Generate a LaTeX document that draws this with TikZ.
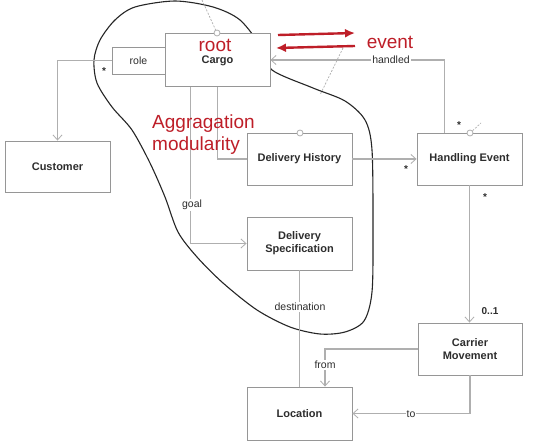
\documentclass[tikz,border=0pt]{standalone}
\usepackage{fontspec}
\setmainfont{Liberation Sans}
\usetikzlibrary{arrows.meta}
\definecolor{boxline}{RGB}{150,150,150}
\definecolor{connc}{RGB}{175,175,175}
\definecolor{txt}{RGB}{45,45,45}
\definecolor{annot}{RGB}{190,30,40}
\begin{document}
\begin{tikzpicture}[x=1pt,y=-1pt,
 cls/.style={draw=boxline, line width=0.9pt, fill=white, minimum width=105pt, minimum height=53pt, inner sep=1pt, align=center, font=\fontsize{11}{13}\selectfont\bfseries, text=txt},
 rolebox/.style={draw=boxline, line width=0.9pt, fill=white, minimum width=53pt, minimum height=27pt, inner sep=1pt, font=\fontsize{10.5}{12}\selectfont, text=txt},
 connline/.style={draw=connc, line width=1.2pt},
 nav/.style={-{Straight Barb[length=5pt,width=9pt,line width=0.8pt]}},
 lbl/.style={font=\fontsize{10.5}{12}\selectfont, text=txt, fill=white, inner sep=1pt},
 mult/.style={font=\fontsize{10}{11}\selectfont\bfseries, text=txt, inner sep=0pt},
 redtxt/.style={font=\fontsize{19}{21}\selectfont, text=annot, inner sep=0pt},
 redarrow/.style={draw=annot, line width=2.4pt, -{Latex[length=10pt,width=9pt]}},
 port/.style={circle, draw=connc, fill=white, line width=0.8pt, minimum size=6pt, inner sep=0pt},
 guide/.style={draw=connc, line width=0.7pt, dash pattern=on 2pt off 1.5pt},
]
\useasboundingbox (0,0) rectangle (533,446);
\fill[white] (0,0) rectangle (533,446);

% aggregate boundary
\draw[black!85, line width=1.1pt] plot[smooth cycle, tension=0.5] coordinates {
 (175,1) (213,7) (240,20) (262,48) (272,70) (313,88) (345,101) (365,120)
 (372,150) (373,230) (372,292) (364,321) (345,332) (320,334) (290,327)
 (257,310) (223,283) (197,257) (178,232) (165,197) (150,163) (132,130)
 (112,107) (97,83) (94,60) (100,40) (115,20) (135,7)};

% dashed guides
\coordinate (g1a) at (202,0);
\coordinate (g2a) at (343,48);
\coordinate (g2b) at (320,95);
\coordinate (g3b) at (481,123);

% classes
\node[cls] (Cargo) at (217.5,60) {};
\node[rolebox] (role) at (138.5,60.5) {role};
\node[cls, minimum height=51pt] (Customer) at (57.5,166.5) {Customer};
\node[cls, minimum height=52pt] (DH) at (299.5,159) {Delivery History};
\node[cls, minimum height=52pt] (HE) at (469.5,159) {Handling Event};
\node[cls] (DS) at (299.5,243.5) {Delivery\\Specification};
\node[cls, minimum height=52pt, minimum width=104pt] (CM) at (470,349) {Carrier\\Movement};
\node[cls] (Loc) at (299.5,413.5) {Location};

\node[font=\fontsize{11}{13}\selectfont\bfseries, text=txt] (cargotext) at (217.5,61) {Cargo};

% connectors
\draw[connline, nav] (role.west) -| (Customer.north);
\draw[connline] (Cargo.south) |- (DH.west);
\draw[connline, nav] ([xshift=-27pt]Cargo.south) |- (DS.west);
\draw[connline, nav] (DH.east) -- (HE.west);
\draw[connline, nav] ([xshift=-25pt]HE.north) |- (Cargo.east);
\draw[connline, nav] (HE.south) -- (HE.south |- CM.north);
\draw[connline, nav] (CM.west) -| ([xshift=25.5pt]Loc.north);
\draw[connline, nav] (CM.south) |- (Loc.east);
\draw[connline] (DS.south) -- (Loc.north);

% ports and guides
\node[port] (p1) at (217,33) {};
\node[port] (p2) at (300,133) {};
\node[port] (p3) at (470,133) {};
\draw[guide] (g1a) -- (p1);
\draw[guide] (g2a) -- (g2b);
\draw[guide] (p3) -- (g3b);

% labels
\node[lbl] (lgoal) at (192,205) {goal};
\node[lbl] (lhandled) at (391,60) {handled};
\node[lbl] (ldest) at (300,307) {destination};
\node[lbl] (lfrom) at (325,365) {from};
\node[lbl] (lto) at (411,414) {to};

% multiplicities
\node[mult] (m1) at (104,71) {*};
\node[mult] (m2) at (459,125) {*};
\node[mult] (m3) at (406,169) {*};
\node[mult] (m4) at (485,197) {*};
\node[mult] (m5) at (490,311) {0..1};

% red annotations
\node[redtxt, anchor=base] (root) at (215,52) {root};
\node[redtxt, anchor=base] (event) at (390,49) {event};
\node[redtxt, anchor=base west] (agg1) at (152,129) {Aggragation};
\node[redtxt, anchor=base west] (agg2) at (152,151) {modularity};
\coordinate (ra1) at (278,35);
\coordinate (ra2) at (355,33);
\coordinate (rb1) at (355,46);
\coordinate (rb2) at (276,48);
\draw[redarrow] (ra1) -- (ra2);
\draw[redarrow] (rb1) -- (rb2);
\end{tikzpicture}
\end{document}
